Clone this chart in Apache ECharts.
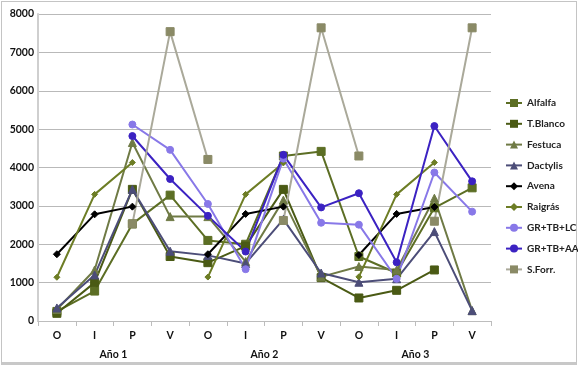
<!DOCTYPE html>
<html><head><meta charset="utf-8">
<script src="https://cdn.jsdelivr.net/npm/echarts@6/dist/echarts.min.js"></script>
<style>
html,body{margin:0;padding:0;background:#fff;}
#frame{position:absolute;left:1px;top:1px;width:574px;height:360px;border:1px solid #c4c4c4;border-bottom:3px solid #c8c8c8;}
#chart{position:absolute;left:0;top:0;width:578px;height:365px;}
</style></head>
<body>
<div id="frame"></div>
<div id="chart"></div>
<script>
const seasons = ['O','I','P','V','O','I','P','V','O','I','P','V'];
const years = ['Año 1','Año 2','Año 3'];
const yTicks = [0,1000,2000,3000,4000,5000,6000,7000,8000];

const alfalfa  = [250, 780, 2530, 3280, 2100, 2000, 4300, 4420, 1680, 1250, 2950, 3470];
const tBlanco  = [200, 1000, 3430, 1680, 1520, 1950, 3430, 1130, 600, 800, 1330, null];
const festuca  = [300, 1330, 4650, 2720, 2720, 1550, 3150, 1150, 1420, 1330, 3200, 270];
const dactylis = [340, 1200, 3430, 1820, 1710, 1500, 2650, 1250, 1010, 1100, 2330, 270];
const avena    = [1740, 2780, 2980, null, 1740, 2790, 2980, null, 1720, 2790, 2970, null];
const raigras  = [1140, 3300, 4130, null, 1145, 3300, 4120, null, 1150, 3300, 4130, null];
const grTbLc   = [null, null, 5120, 4460, 3050, 1350, 4230, 2560, 2510, 1100, 3870, 2850];
const grTbAa   = [null, null, 4820, 3700, 2740, 1810, 4330, 2960, 3330, 1530, 5080, 3640];
const sForr    = [null, null, 2530, 7540, 4210, null, 2620, 7640, 4300, null, 2600, 7640];

const seriesDefs = [
  {name:'Alfalfa',   data:alfalfa,  color:'#5c6e24', symbol:'rect',     size:8},
  {name:'T.Blanco',  data:tBlanco,  color:'#4a5a14', symbol:'rect',     size:8},
  {name:'Festuca',   data:festuca,  color:'#6f7a45', symbol:'triangle', size:8},
  {name:'Dactylis',  data:dactylis, color:'#4c4d78', symbol:'triangle', size:8},
  {name:'Avena',     data:avena,    color:'#000000', symbol:'diamond',  size:7},
  {name:'Raigrás',   data:raigras,  color:'#6d7d25', symbol:'diamond',  size:6},
  {name:'GR+TB+LC',  data:grTbLc,   color:'#8878e8', symbol:'circle',   size:7},
  {name:'GR+TB+AA',  data:grTbAa,   color:'#3b22c2', symbol:'circle',   size:7},
  {name:'S.Forr.',   data:sForr,    color:'#aaa99a', symbol:'rect',     size:8, markerColor:'#8a8a66'}
];

const chart = echarts.init(document.getElementById('chart'), null, {renderer:'canvas'});
const font = 'Lato, sans-serif';
const axFont = 'Lato, "Open Sans", sans-serif';
chart.setOption({
  animation:false,
  backgroundColor:'transparent',
  grid:{left:38, right:87, top:14, bottom:44},
  legend:{
    orient:'vertical', left:500, top:93, itemWidth:16, itemHeight:10, itemGap:10.8,
    textStyle:{fontFamily:font, fontSize:10, fontWeight:'bold', color:'#222'},
    data: seriesDefs.map(s=>s.name)
  },
  xAxis:[
    {type:'category', data:seasons, boundaryGap:true,
     axisLine:{lineStyle:{color:'#bdbdbd'}},
     axisTick:{show:true, interval:0, length:5, lineStyle:{color:'#bdbdbd'}},
     axisLabel:{interval:0, fontFamily:axFont, fontSize:10.5, fontWeight:'bold', color:'#111', margin:9}},
    {type:'category', data:years, position:'bottom', offset:20, boundaryGap:true,
     axisLine:{show:false}, axisTick:{show:false},
     axisLabel:{interval:0, fontFamily:axFont, fontSize:10.5, fontWeight:'bold', color:'#111', margin:8}}
  ],
  yAxis:{type:'value', min:yTicks[0], max:yTicks[yTicks.length-1], interval:yTicks[1]-yTicks[0],
    axisLine:{show:true, lineStyle:{color:'#cfcfcf', width:2}},
    axisTick:{show:false},
    splitLine:{lineStyle:{color:'#b9b9b9'}},
    axisLabel:{fontFamily:axFont, fontSize:10.5, fontWeight:'bold', color:'#111', margin:4,
      formatter:v=>String(v)}},
  series: seriesDefs.map(s=>({
    name:s.name, type:'line', data:s.data, connectNulls:false,
    symbol:s.symbol, symbolSize:s.size, showSymbol:true,
    lineStyle:{color:s.color, width:2},
    itemStyle:{color:s.markerColor||s.color, borderColor:s.markerColor||s.color},
    emphasis:{disabled:true}
  }))
});
</script>
</body></html>
